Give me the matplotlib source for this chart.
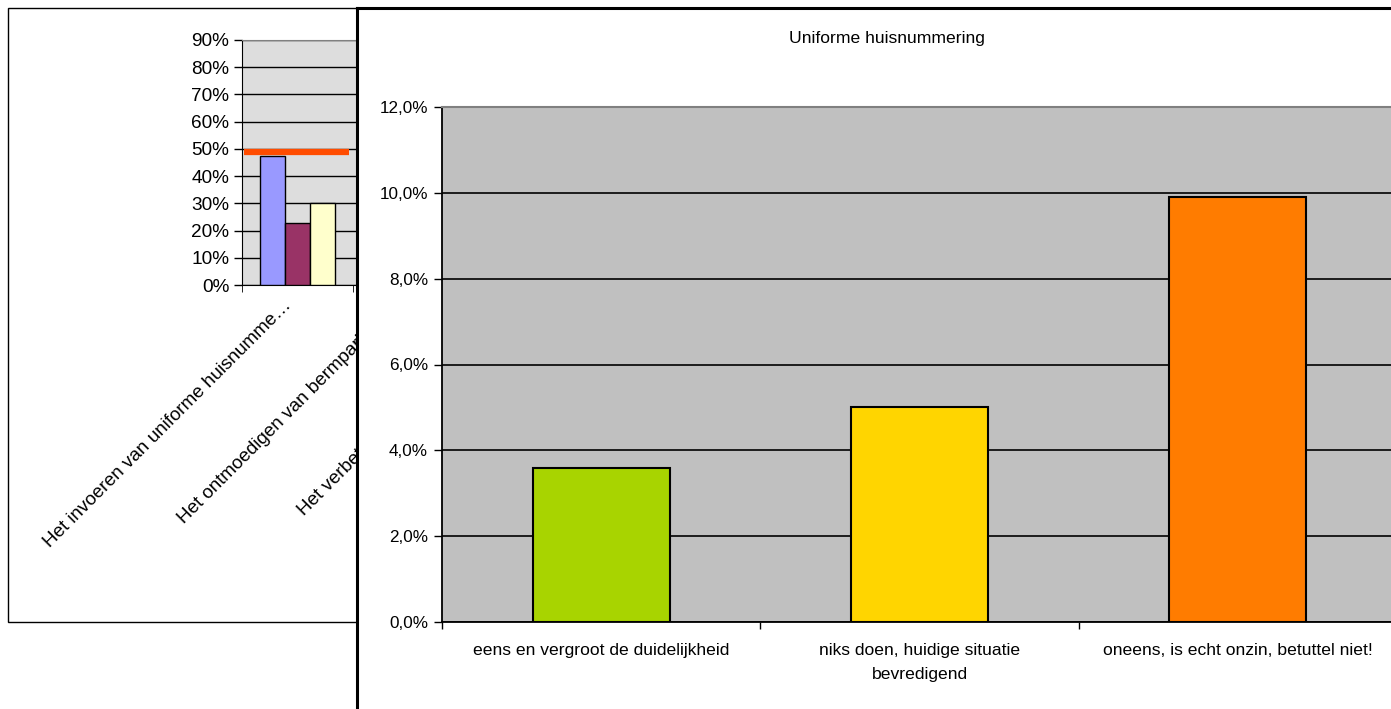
import matplotlib.pyplot as plt
import matplotlib.patches as mpatches
from matplotlib.ticker import FuncFormatter, FixedLocator
from matplotlib.transforms import ScaledTranslation

plt.rcParams['font.family'] = ['Liberation Sans', 'DejaVu Sans']

# left (background) chart
left_cats = ["Het invoeren van uniforme huisnumme\u2026",
             "Het ontmoedigen van bermparkere\u2026",
             "Het verbeteren van de bewegwijz\u2026"]
left_series = [0.475, 0.228, 0.30]
left_colors = ['#9999FF', '#993366', '#FFFFCC']
left_target = 0.489

# right (front) chart
title = "Uniforme huisnummering"
right_cats = ["eens en vergroot de duidelijkheid",
              "niks doen, huidige situatie\nbevredigend",
              "oneens, is echt onzin, betuttel niet!"]
right_vals = [0.036, 0.050, 0.099]
right_colors = ['#A8D400', '#FFD500', '#FF7C00']

W, H = 1391, 709
fig = plt.figure(figsize=(W / 100, H / 100), dpi=100)


def box(x0, y0, x1, y1):
    return [x0 / W, 1 - y1 / H, (x1 - x0) / W, (y1 - y0) / H]


fs = 12.6
fs_left = 13.7

# outer frame of left chart
fig.patches.append(mpatches.Rectangle((8 / W, 1 - 622 / H), 400 / W, 614 / H,
                                      transform=fig.transFigure, fill=False,
                                      edgecolor='black', lw=1, zorder=0.5))

ax1 = fig.add_axes(box(242, 40, 242 + 3 * 111, 285))
ax1.set_facecolor('#DDDDDD')
w = 0.225
for i, (v, c) in enumerate(zip(left_series, left_colors)):
    ax1.bar(0.5 + (i - 1) * w, v, width=w, color=c, edgecolor='black', lw=1, zorder=3)
ax1.hlines(left_target, 0.02, 0.96, color='#FF4C00', lw=4.5, zorder=4)
ax1.set_xlim(0, 3)
ax1.set_ylim(0, 0.9)
ax1.set_yticks([i / 10 for i in range(10)])
ax1.yaxis.set_major_formatter(FuncFormatter(lambda v, p: f"{v * 100:.0f}%"))
ax1.grid(axis='y', color='black', lw=1)
ax1.set_axisbelow(True)
ax1.tick_params(axis='y', direction='out', length=6, width=1, labelsize=fs_left, pad=3)
ax1.xaxis.set_major_locator(FixedLocator([0.5, 1.5, 2.5]))
ax1.set_xticklabels(left_cats, rotation=45, ha='right', rotation_mode='anchor', fontsize=13.6)
ax1.tick_params(axis='x', length=0, pad=22)
shift = ScaledTranslation(-0.15, 0.19, fig.dpi_scale_trans)
for lab in ax1.get_xticklabels():
    lab.set_transform(lab.get_transform() + shift)
ax1.xaxis.set_minor_locator(FixedLocator([0, 1, 2, 3]))
ax1.tick_params(axis='x', which='minor', direction='out', length=5)
ax1.spines['top'].set_color('#808080')
ax1.spines['right'].set_visible(False)

# white panel of right chart
panel = fig.add_axes(box(357, 8, W + 20, H + 20), zorder=5)
panel.set_facecolor('white')
panel.set_xticks([])
panel.set_yticks([])
for s in ['right', 'bottom']:
    panel.spines[s].set_visible(False)
for s in ['left', 'top']:
    panel.spines[s].set_linewidth(2.2)
    panel.spines[s].set_color('black')

ax2 = fig.add_axes(box(442, 107, 1397, 622), zorder=6)
ax2.set_facecolor('#C0C0C0')
ax2.bar([0.5, 1.5, 2.5], right_vals, width=0.43, color=right_colors,
        edgecolor='black', lw=1.5, zorder=3)
ax2.set_xlim(0, 3)
ax2.set_ylim(0, 0.12)
ax2.set_yticks([i * 0.02 for i in range(7)])
ax2.yaxis.set_major_formatter(FuncFormatter(lambda v, p: f"{v * 100:.1f}%".replace('.', ',')))
ax2.grid(axis='y', color='black', lw=1.2)
ax2.set_axisbelow(True)
ax2.tick_params(axis='y', direction='out', length=6, width=1, labelsize=12.3, pad=4)
ax2.xaxis.set_major_locator(FixedLocator([0.5, 1.5, 2.5]))
ax2.set_xticklabels(right_cats, fontsize=fs, linespacing=1.8)
ax2.tick_params(axis='x', length=0, pad=15)
ax2.xaxis.set_minor_locator(FixedLocator([0, 1, 2, 3]))
ax2.tick_params(axis='x', which='minor', direction='out', length=5, width=1)
ax2.spines['top'].set_color('#808080')
ax2.spines['top'].set_linewidth(1.5)
ax2.spines['right'].set_visible(False)
ax2.spines['left'].set_linewidth(1.3)
ax2.spines['bottom'].set_linewidth(1.3)

fig.text(887 / W, 1 - 39 / H, title, ha='center', va='center', fontsize=fs, zorder=7)

fig.savefig('out.png', dpi=100)
